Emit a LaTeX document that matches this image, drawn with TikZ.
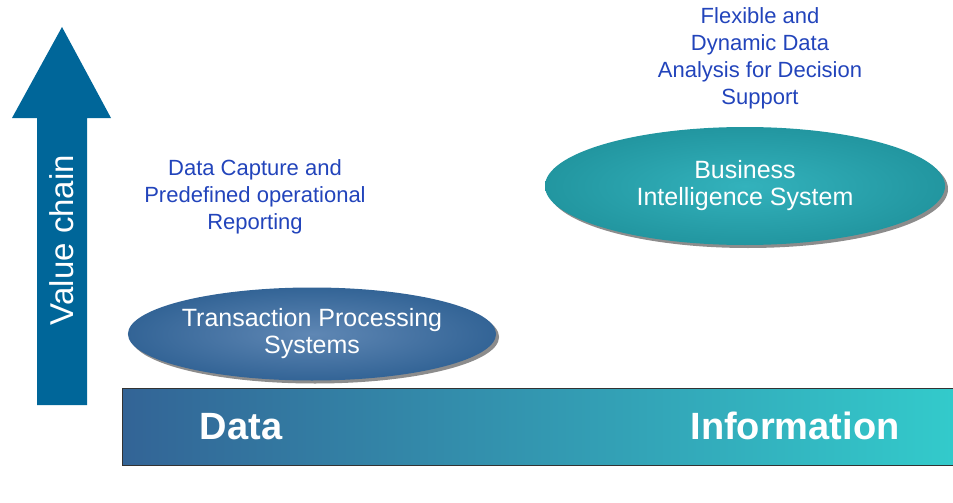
\documentclass[tikz,border=0pt]{standalone}
\usepackage{fontspec}
\setmainfont{Liberation Sans}
\usetikzlibrary{shapes.geometric,shadows,positioning}
\definecolor{chainblue}{RGB}{0,102,153}
\definecolor{noteblue}{RGB}{34,68,187}
\definecolor{tpsdark}{RGB}{51,100,150}
\definecolor{tpslight}{RGB}{95,135,180}
\definecolor{bidark}{RGB}{34,150,160}
\definecolor{bilight}{RGB}{51,178,188}
\definecolor{barleft}{RGB}{51,100,150}
\definecolor{barmid}{RGB}{51,160,180}
\definecolor{barright}{RGB}{51,204,204}

\begin{document}
\begin{tikzpicture}[x=1pt,y=-1pt,
    sysnode/.style={ellipse,inner sep=0pt,align=center,text=white,font=\fontsize{25}{27}\selectfont,drop shadow={shadow xshift=3pt,shadow yshift=-3pt,fill=gray!90,opacity=1}},
    note/.style={align=center,text=noteblue,font=\fontsize{22}{27}\selectfont},
    bartext/.style={text=white,font=\fontsize{38}{40}\selectfont\bfseries}] %
    \useasboundingbox (0,0) rectangle (953,503);
    % value chain arrow
    \fill[chainblue] (37,405) -- (37,118) -- (12,118) -- (62,27) -- (111,118) -- (87,118) -- (87,405) -- cycle;
    \node[rotate=90,text=white,font=\fontsize{33}{35}\selectfont] (chain) at (62,240) {Value chain};
    % data to information bar
    \node[draw=black!80,line width=1pt,left color=barleft,middle color=barmid,right color=barright,minimum width=845pt,minimum height=77pt,inner sep=0pt,anchor=north west] (bar) at (122,388) {};
    \node[bartext] (data) at (241,427) {Data};
    \node[bartext] (info) at (795,426) {Information};
    % systems
    \node[sysnode,minimum width=364pt,minimum height=93pt,inner color=tpslight,outer color=tpsdark] (tps) at (312,334) {Transaction Processing\\Systems};
    \node[sysnode,minimum width=400pt,minimum height=118pt,inner color=bilight,outer color=bidark] (bi) at (745,186) {Business\\Intelligence System};
    \node[note] (capture) at (255,197) {Data Capture and\\Predefined operational\\Reporting};
    \node[note] (flex) at (760,58) {Flexible and\\Dynamic Data\\Analysis for Decision\\Support};
  \end{tikzpicture}
\end{document}
